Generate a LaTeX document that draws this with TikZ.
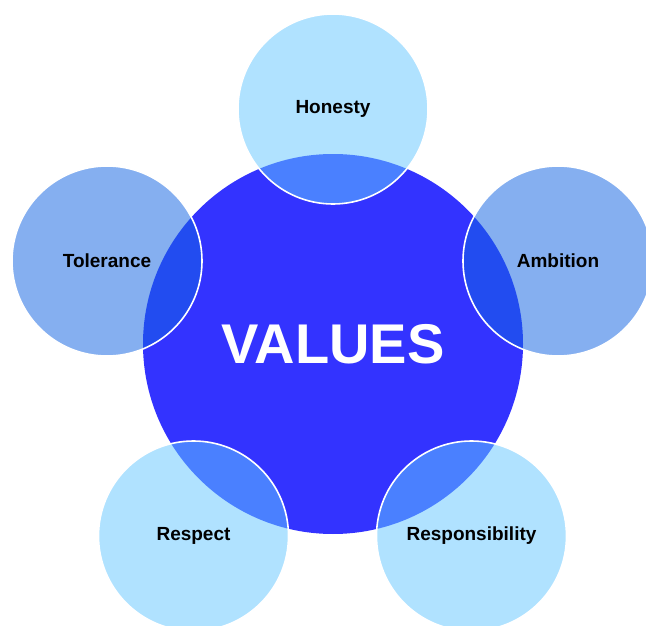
\documentclass[tikz,border=0pt]{standalone}
\usepackage{fontspec}
\setmainfont{Liberation Sans}
\usetikzlibrary{positioning}
\definecolor{core blue}{HTML}{3333FF}
\definecolor{pale blue}{HTML}{B0E2FF}
\definecolor{mid blue}{HTML}{85AFF0}
\definecolor{pale overlap}{HTML}{4A80FF}
\definecolor{mid overlap}{HTML}{224CF0}
\tikzset{
    % Circles
    hub/.style={circle,inner sep=0pt,minimum size=380pt,fill=core blue,text=white,
        font=\fontsize{56}{60}\selectfont\bfseries},
    petal/.style={circle,inner sep=0pt,minimum size=190pt,fill=#1,text=black,
        font=\fontsize{19}{22}\selectfont\bfseries},
    %
    % Borders
    rim/.style={draw=white,line width=1.6pt}
}

\begin{document}
\begin{tikzpicture}[x=1pt,y=-1pt]
    \useasboundingbox (0,0) rectangle (646,626);
    \node[hub] (values) at (333,344) {VALUES};
    \foreach \name/\x/\y/\col/\lab in {honesty/333/109/pale blue/Honesty,
            tolerance/107/261/mid blue/Tolerance,
            ambition/558/261/mid blue/Ambition,
            respect/193.5/536/pale blue/Respect,
            responsibility/471.5/536/pale blue/Responsibility}{
        \node[petal=\col] (\name) at (\x,\y) {\lab};
    }
    % overlaps with the hub
    \begin{scope}
        \clip (values.center) circle[radius=190];
        \foreach \name/\col in {honesty/pale overlap,tolerance/mid overlap,
                ambition/mid overlap,respect/pale overlap,responsibility/pale overlap}
            \fill[\col] (\name.center) circle[radius=95];
    \end{scope}
    \foreach \name in {honesty,tolerance,ambition,respect,responsibility}
        \draw[rim] (\name.center) circle[radius=95];
\end{tikzpicture}
\end{document}
